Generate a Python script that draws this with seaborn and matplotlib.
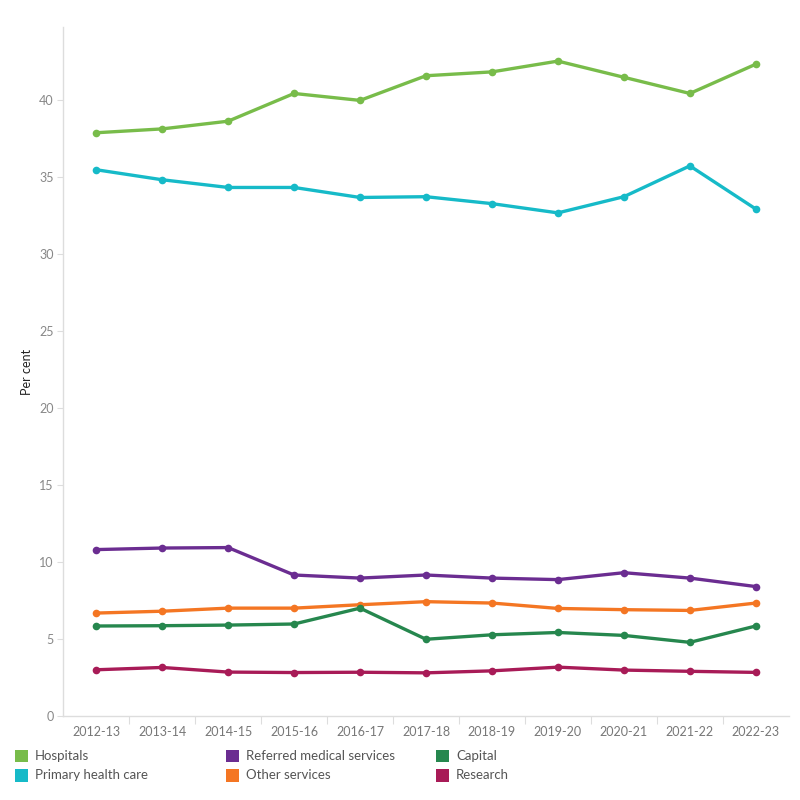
import matplotlib
matplotlib.use("Agg")
import matplotlib.pyplot as plt
from matplotlib.patches import Rectangle
import seaborn as sns
import pandas as pd

years = ["2012-13", "2013-14", "2014-15", "2015-16", "2016-17", "2017-18",
         "2018-19", "2019-20", "2020-21", "2021-22", "2022-23"]
hospitals = [37.85, 38.1, 38.6, 40.4, 39.95, 41.55, 41.8, 42.5, 41.45, 40.4, 42.3]
primary_health_care = [35.45, 34.8, 34.3, 34.3, 33.65, 33.7, 33.25, 32.65, 33.7, 35.7, 32.9]
referred_medical = [10.8, 10.9, 10.93, 9.15, 8.95, 9.15, 8.95, 8.85, 9.3, 8.95, 8.4]
other_services = [6.68, 6.8, 7.0, 7.0, 7.22, 7.42, 7.33, 6.98, 6.9, 6.85, 7.33]
capital = [5.84, 5.86, 5.9, 5.97, 7.0, 4.98, 5.27, 5.42, 5.23, 4.78, 5.84]
research = [3.0, 3.15, 2.85, 2.82, 2.84, 2.8, 2.93, 3.17, 2.98, 2.9, 2.83]

series_names = ["Hospitals", "Primary health care", "Referred medical services",
                "Other services", "Capital", "Research"]
series_values = [hospitals, primary_health_care, referred_medical,
                 other_services, capital, research]
colors = ["#78BC4A", "#16BAC8", "#6B2D91", "#F47623", "#26874E", "#A81B57"]

rows = []
for name, vals in zip(series_names, series_values):
    for y, v in zip(years, vals):
        rows.append({"Year": y, "Value": v, "Series": name})
df = pd.DataFrame(rows)

sns.set_theme(style="white")
plt.rcParams["font.family"] = ["Lato", "DejaVu Sans"]

fig = plt.figure(figsize=(8, 8), dpi=100)
ax = fig.add_axes([0.079, 0.105, 0.907, 0.861])

palette = dict(zip(series_names, colors))
sns.lineplot(data=df, x="Year", y="Value", hue="Series", palette=palette,
             hue_order=series_names, marker="o", markersize=5.5,
             markeredgewidth=0, linewidth=2.4, sort=False, legend=False, ax=ax)

ax.set_xlim(-0.5, len(years) - 0.5)
ax.set_ylim(0, 44.7)
ax.set_yticks([0, 5, 10, 15, 20, 25, 30, 35, 40])
ax.set_xticks(range(len(years)))
ax.set_xticklabels(years)
ax.set_xticks([i + 0.5 for i in range(len(years) - 1)], minor=True)
ax.tick_params(axis="x", which="major", length=0, pad=7, labelsize=9, labelcolor="#777777")
ax.tick_params(axis="x", which="minor", length=6, width=0.8, color="#dddddd", bottom=True)
ax.tick_params(axis="y", length=4, width=0.8, color="#dddddd", labelsize=9,
               labelcolor="#888888", pad=3, left=True)
ax.set_xlabel("")
ax.set_ylabel("Per cent", fontsize=9, color="#222222", labelpad=4)

for s in ["top", "right"]:
    ax.spines[s].set_visible(False)
for s in ["left", "bottom"]:
    ax.spines[s].set_color("#dddddd")
    ax.spines[s].set_linewidth(1)
ax.grid(False)

# manual legend (Tableau style, fixed columns)
col_x = [0.019, 0.283, 0.545]
row_y = [0.055, 0.031]
order = [(0, 0), (1, 0), (0, 1), (1, 1), (0, 2), (1, 2)]
for (r, c), name, col in zip(order, series_names, colors):
    fig.patches.append(Rectangle((col_x[c], row_y[r] - 0.008), 0.016, 0.016,
                                 transform=fig.transFigure, facecolor=col,
                                 edgecolor="none"))
    fig.text(col_x[c] + 0.025, row_y[r], name, fontsize=9.5, color="#555555",
             va="center", ha="left")

fig.savefig("out.png", dpi=100, facecolor="white")
